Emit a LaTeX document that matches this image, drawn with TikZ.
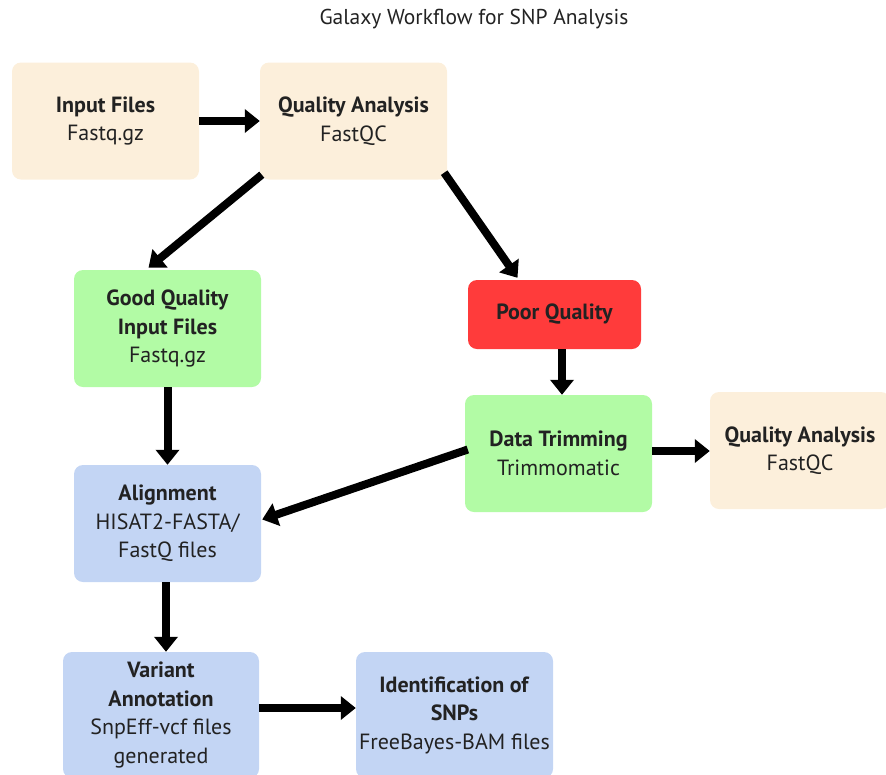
\documentclass[tikz,border=0pt]{standalone}
\usepackage{fontspec}
\setmainfont{PT Sans}
\usetikzlibrary{arrows.meta,calc}
\definecolor{beige}{HTML}{FCEFDB}
\definecolor{lgreen}{HTML}{B2FBA5}
\definecolor{pred}{HTML}{FF3B3B}
\definecolor{lblue}{HTML}{C3D5F4}
\definecolor{txt}{HTML}{222222}
\tikzset{
  box/.style={rounded corners=9pt, minimum width=187pt, minimum height=117pt, align=center, inner sep=0pt, text=txt, font=\fontsize{22}{28.5}\selectfont},
  flow/.style={line width=8pt, -{Triangle[length=15pt,width=23pt]}},
}
\begin{document}
\begin{tikzpicture}[x=1pt,y=-1pt]
\useasboundingbox (0,0) rectangle (886,774);
\clip (0,0) rectangle (886,774);
\node[font=\fontsize{21.5}{25}\selectfont, text=txt] (title) at (474,19) {Galaxy Workflow for SNP Analysis};
\node[box, fill=beige] (inp) at (105.5,121) {\textbf{Input Files}\\Fastq.gz};
\node[box, fill=beige] (qa1) at (353.5,121) {\textbf{Quality Analysis}\\FastQC};
\node[box, fill=lgreen] (good) at (167.5,328.5) {\textbf{Good Quality}\\\textbf{Input Files}\\Fastq.gz};
\node[box, fill=pred, minimum width=173pt, minimum height=69pt] (poor) at (554.5,314.5) {\textbf{Poor Quality}};
\node[box, fill=lgreen] (dt) at (558.5,453.5) {\textbf{Data Trimming}\\Trimmomatic};
\node[box, fill=beige, minimum width=180pt] (qa2) at (800,450.5) {\textbf{Quality Analysis}\\FastQC};
\node[box, fill=lblue] (aln) at (167.5,523.5) {\textbf{Alignment}\\HISAT2-FASTA/\\FastQ files};
\node[box, fill=lblue, minimum width=196pt, minimum height=126pt] (var) at (161,715) {\textbf{Variant}\\\textbf{Annotation}\\SnpEff-vcf files\\generated};
\node[box, fill=lblue, minimum width=197pt, minimum height=126pt] (snp) at (454.5,715) {\textbf{Identification of}\\\textbf{SNPs}\\FreeBayes-BAM files};
\coordinate (p1) at ($(poor.south)+(7.5,0)$);
\coordinate (a1) at ($(aln.south)+(-1.5,0)$);
\coordinate (d1) at ($(dt.east)+(0,-2.5)$);
\coordinate (v1) at ($(var.east)+(0,-7)$);
\draw[flow] (inp.east) -- (qa1.west);
\draw[flow] ($(qa1.south west)+(2,-5)$) -- ($(good.north)+(-19,-2)$);
\draw[flow] ($(qa1.south east)+(-3,-7)$) -- ($(poor.north)+(-37,-2)$);
\draw[flow] (p1) -- (p1 |- dt.north);
\draw[flow] (good.south) -- (aln.north);
\draw[flow] (d1) -- (d1 -| qa2.west);
\draw[flow] ($(dt.west)+(3,-4)$) -- ($(aln.east)+(1,-4)$);
\draw[flow] (a1) -- (a1 |- var.north);
\draw[flow] (v1) -- (v1 -| snp.west);
\end{tikzpicture}
\end{document}
